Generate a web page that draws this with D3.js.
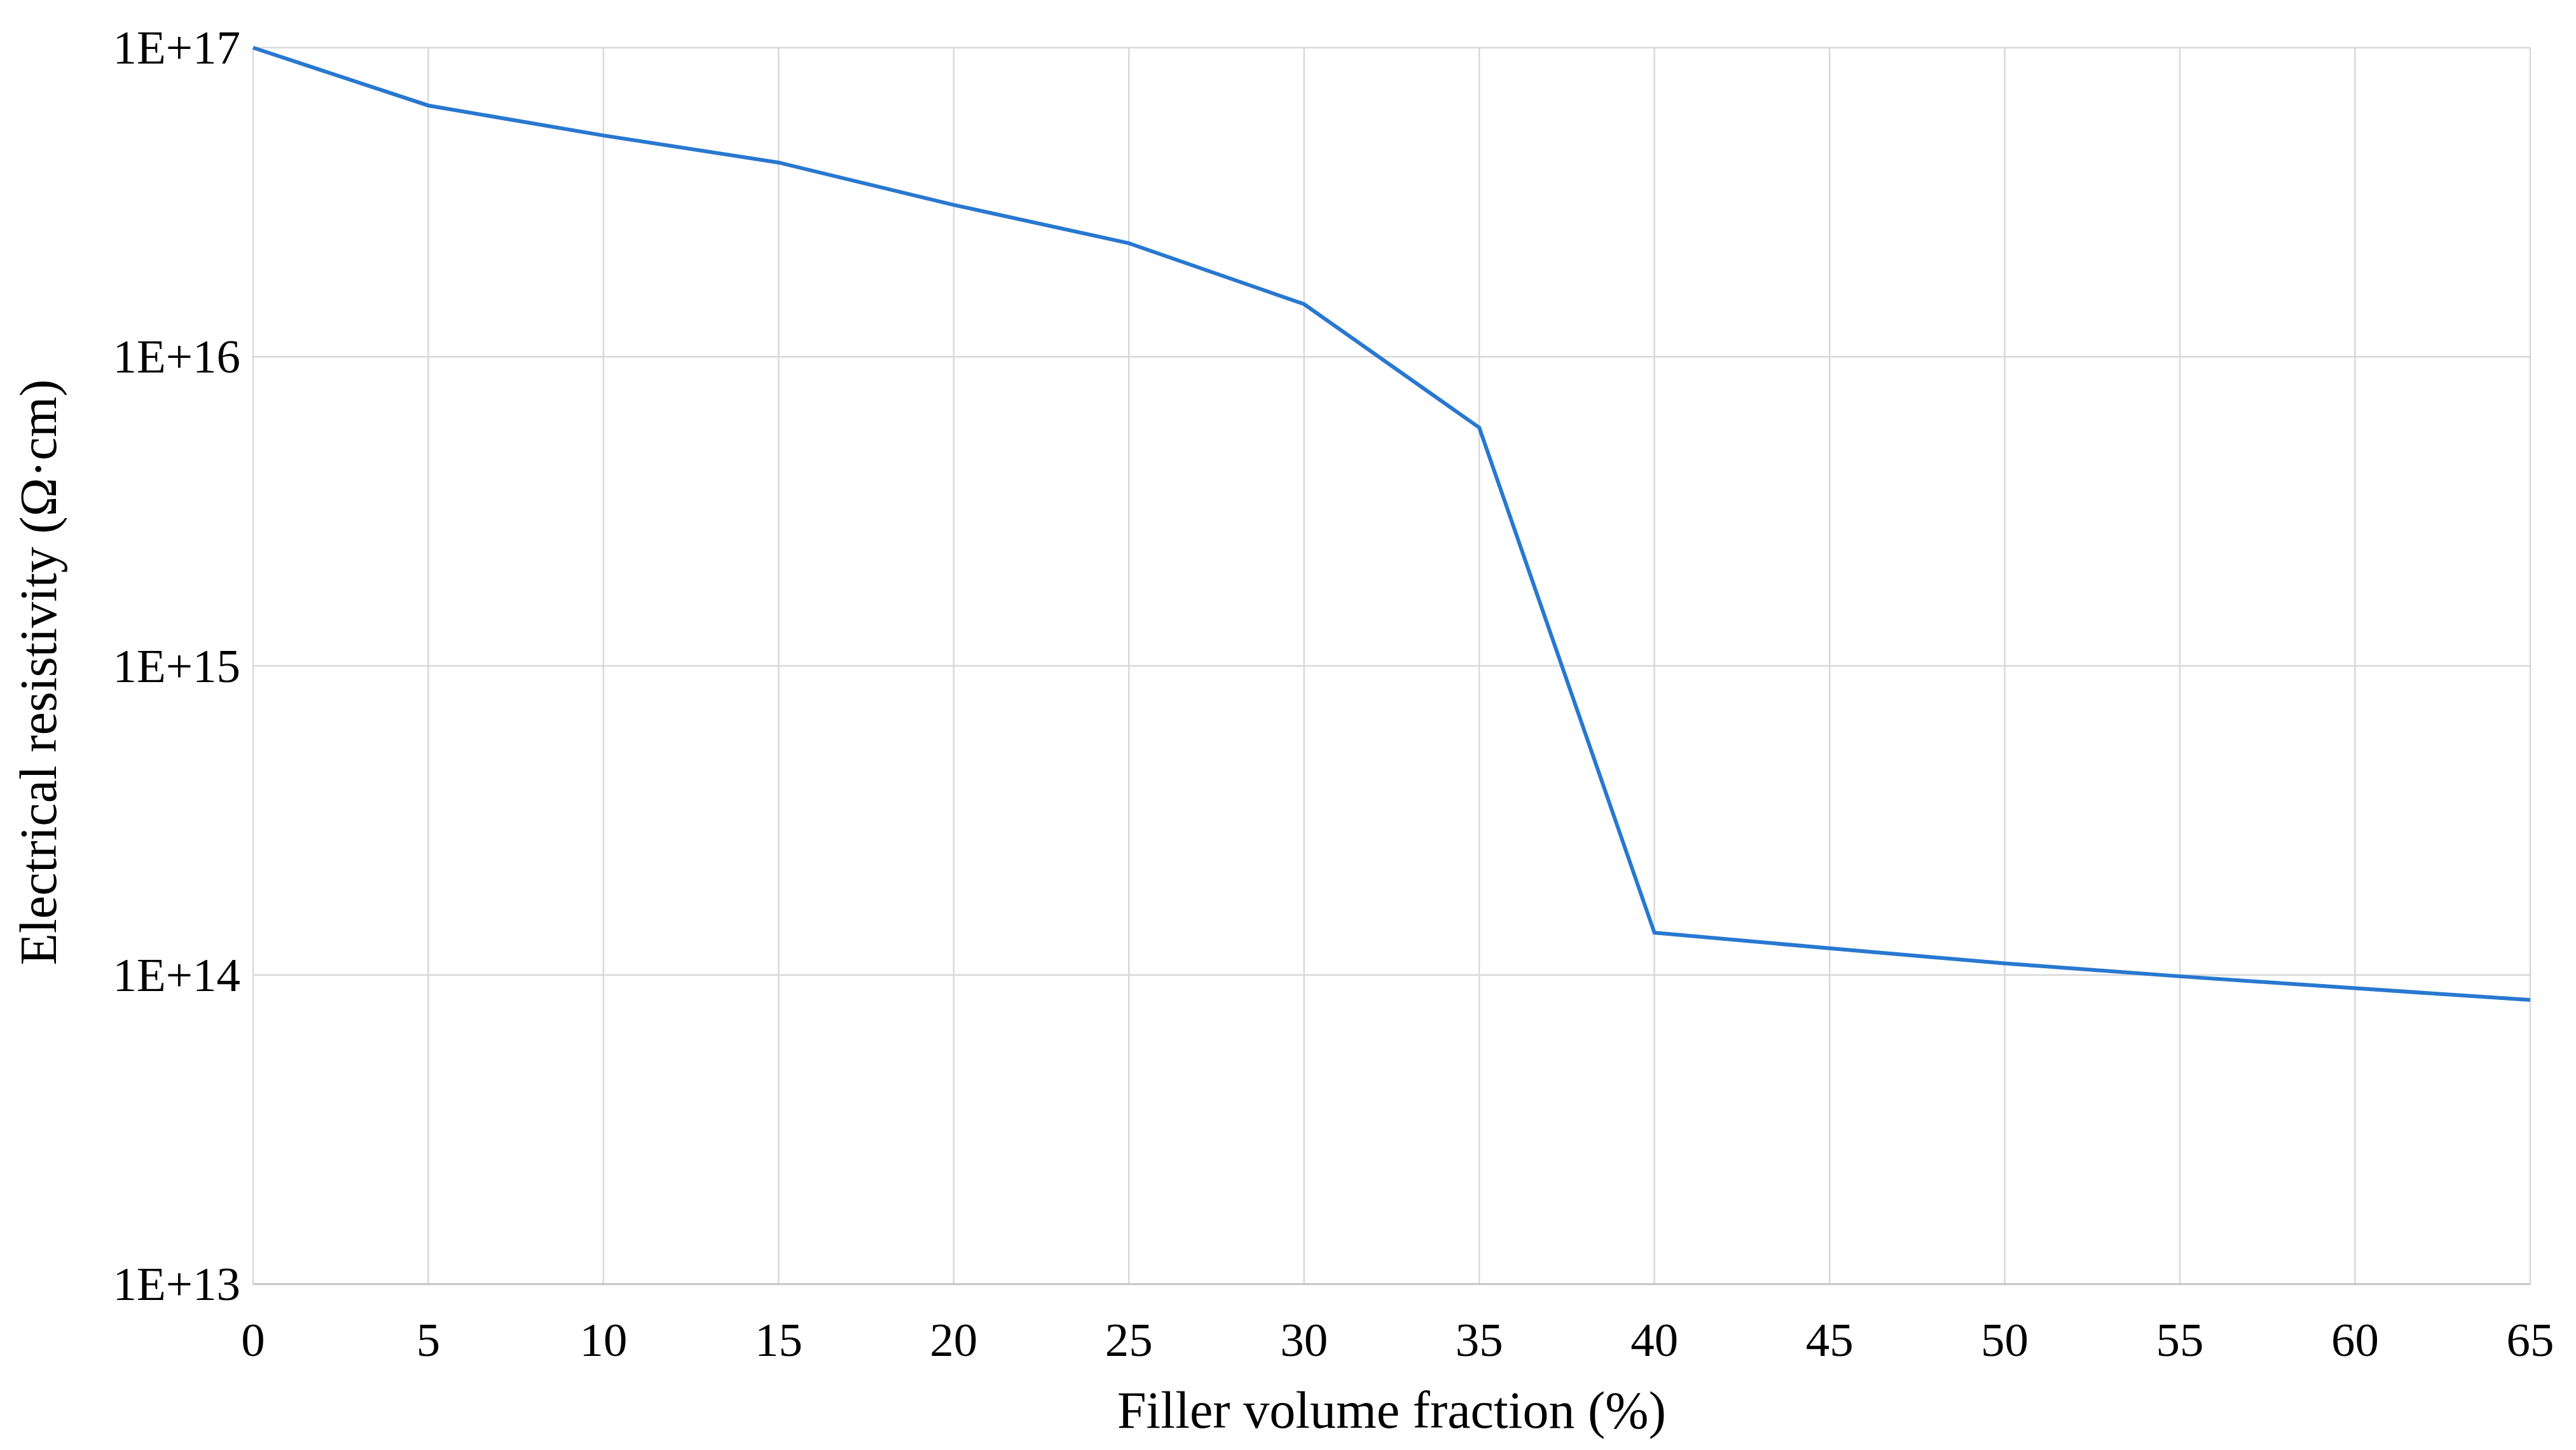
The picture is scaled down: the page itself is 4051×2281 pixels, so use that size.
<!DOCTYPE html>
<html><head><meta charset="utf-8">
<script src="https://cdn.jsdelivr.net/npm/d3@7"></script>
<style>body{margin:0;background:#fff}svg{display:block}text{font-family:"Liberation Serif","Times New Roman",serif;fill:#000}</style>
</head><body>
<script>
const fractions=[0,5,10,15,20,25,30,35,40,45,50,55,60,65];
const resistivity=[1e17,6.5e16,5.2e16,4.25e16,3.1e16,2.33e16,1.48e16,5.9e15,1.37e14,1.22e14,1.09e14,9.9e13,9.06e13,8.3e13];
const yTicks=[1e13,1e14,1e15,1e16,1e17];
const yTickLabels=["1E+13","1E+14","1E+15","1E+16","1E+17"];
const xTicks=d3.range(0,66,5);

const W=4051,H=2281,m={l:398,r:W-3979,t:75,b:H-2020};
const svg=d3.select("body").append("svg").attr("width",W).attr("height",H);
const x=d3.scaleLinear().domain([0,65]).range([m.l,W-m.r]);
const y=d3.scaleLog().domain([1e13,1e17]).range([H-m.b,m.t]);
const g=svg.append("g");
g.selectAll(".vx").data(xTicks).join("line").attr("x1",d=>x(d)).attr("x2",d=>x(d)).attr("y1",m.t).attr("y2",H-m.b).attr("stroke","#d9d9d9").attr("stroke-width",2.5);
g.selectAll(".hy").data(yTicks).join("line").attr("x1",m.l).attr("x2",W-m.r).attr("y1",d=>y(d)).attr("y2",d=>y(d)).attr("stroke","#d9d9d9").attr("stroke-width",2.5);
g.append("line").attr("x1",m.l).attr("x2",W-m.r).attr("y1",H-m.b).attr("y2",H-m.b).attr("stroke","#bfbfbf").attr("stroke-width",2.5);
g.selectAll(".xl").data(xTicks).join("text").attr("x",d=>x(d)).attr("y",H-m.b+113).attr("text-anchor","middle").attr("font-size",75).text(d=>d);
g.selectAll(".yl").data(yTicks).join("text").attr("x",m.l-20).attr("y",d=>y(d)+25).attr("text-anchor","end").attr("font-size",75).text((d,i)=>yTickLabels[i]);
svg.append("text").attr("x",(m.l+W-m.r)/2).attr("y",2246).attr("text-anchor","middle").attr("font-size",82).text("Filler volume fraction (%)");
svg.append("text").attr("transform",`translate(88,${(m.t+H-m.b)/2+10}) rotate(-90)`).attr("text-anchor","middle").attr("font-size",82).text("Electrical resistivity (Ω·cm)");
const line=d3.line().x((d,i)=>x(fractions[i])).y(d=>y(d));
svg.append("path").datum(resistivity).attr("d",line).attr("fill","none").attr("stroke","#2878d0").attr("stroke-width",6);
</script>
</body></html>
